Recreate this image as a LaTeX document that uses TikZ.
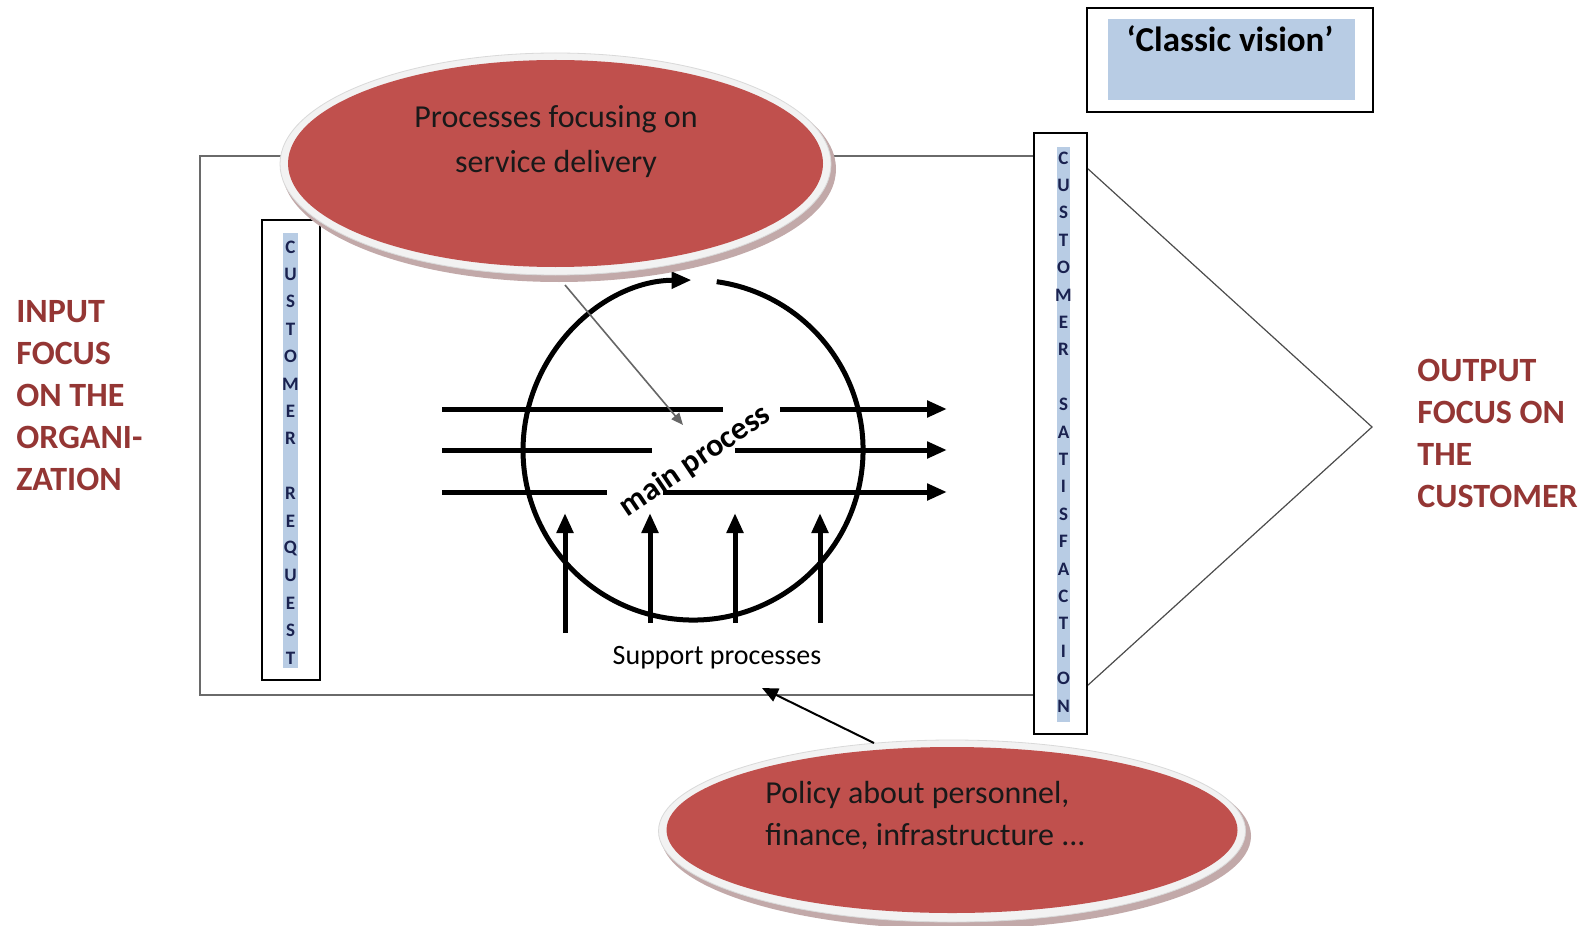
\documentclass[tikz,border=0pt]{standalone}
\usepackage{fontspec}
\setmainfont{Carlito}
\usetikzlibrary{arrows.meta,shapes.geometric}
\definecolor{ered}{HTML}{C0504D}
\definecolor{lblred}{HTML}{943634}
\definecolor{lblue}{HTML}{B8CCE4}
\definecolor{navy}{HTML}{1A2250}
\definecolor{rimc}{HTML}{F2F2F2}
\definecolor{rimd}{HTML}{D9D9D9}
\definecolor{shad}{HTML}{B39494}
\definecolor{framec}{HTML}{6A6A6A}
\begin{document}
\begin{tikzpicture}[x=0.5pt,y=-0.5pt,
  lbl/.style={font=\fontsize{17}{21}\selectfont\bfseries, text=lblred, anchor=base west, inner sep=0pt},
  bartext/.style={font=\fontsize{9.5}{9.5}\selectfont\bfseries, text=navy, inner sep=0pt},
  etext/.style={font=\fontsize{16}{20}\selectfont, text=black!90, inner sep=0pt},
  heavy/.style={line width=2.5pt, line cap=butt},
  bigarr/.style={heavy, -{Triangle[length=10pt,width=8pt]}},
  redell/.style={shape=ellipse, fill=ered, draw=none, inner sep=0pt},
  barbox/.style={draw=black, line width=1pt, fill=white, inner sep=0pt},
  strip/.style={fill=lblue, draw=none, inner sep=0pt}
]
\useasboundingbox (0,0) rectangle (1593,925);
\fill[white] (0,0) rectangle (1593,925);

% main frame
\node[draw=framec, line width=1.3pt, minimum width=417pt, minimum height=269.5pt, inner sep=0pt] (frame) at (617,425.5) {};

% triangle to output
\coordinate (tA) at (1087,168);
\coordinate (apex) at (1372,427);
\coordinate (tB) at (1087,686);
\draw[black!70, line width=0.6pt] (tA) -- (apex) -- (tB);

% left bar
\node[barbox, minimum width=29pt, minimum height=230pt] (leftbar) at (291,450) {};
\node[strip, minimum width=7.5pt, minimum height=217.5pt] (lstrip) at (290.5,450.5) {};
\foreach \c [count=\i from 0] in {C,U,S,T,O,M,E,R,{},R,E,Q,U,E,S,T}
  \node[bartext] (lq\i) at (290.5,247+27.4*\i) {\c};

% right bar
\node[barbox, minimum width=26.5pt, minimum height=300.5pt] (rightbar) at (1060.5,433.5) {};
\node[strip, minimum width=6.5pt, minimum height=287.5pt] (rstrip) at (1063.5,434.5) {};
\foreach \c [count=\i from 0] in {C,U,S,T,O,M,E,R,{},S,A,T,I,S,F,A,C,T,I,O,N}
  \node[bartext] (rs\i) at (1063.5,158+27.4*\i) {\c};

% classic vision box
\node[draw=black, line width=1.2pt, minimum width=143pt, minimum height=52pt, inner sep=0pt] (cvbox) at (1230,60) {};
\node[strip, minimum width=123.5pt, minimum height=40.5pt] (cvfill) at (1231.5,59.5) {};
\node[font=\fontsize{17.5}{20}\selectfont\bfseries, anchor=base, inner sep=0pt] (cvtext) at (1230,52) {‘Classic vision’};

% main process circle
\coordinate (cc) at (693,450);
\draw[heavy, -{Triangle[length=10pt,width=8pt]}] (716.7,281.7) arc[start angle=82, end angle=-269.5, radius=85pt];

% horizontal flows
\draw[heavy] (442,409) -- (723,409);
\draw[bigarr] (780,409) -- (947,409);
\draw[heavy] (442,450) -- (652,450);
\draw[bigarr] (735,450) -- (947,450);
\draw[heavy] (442,492) -- (607,492);
\draw[bigarr] (663,492) -- (947,492);

% support arrows
\draw[bigarr] (565,633) -- (565,513);
\draw[bigarr] (650,623) -- (650,513);
\draw[bigarr] (735,623) -- (735,513);
\draw[bigarr] (820,623) -- (820,513);

\node[font=\fontsize{16}{18}\selectfont\bfseries, rotate=34, inner sep=0pt] (mp) at (695,461) {main process};
\node[font=\fontsize{14}{16}\selectfont, anchor=base, inner sep=0pt] (sp) at (717,664) {Support processes};

% top ellipse
\fill[shad!80!white] (559,169) ellipse [x radius=138.5pt, y radius=56.5pt];
\fill[rimc] (555.5,164) ellipse [x radius=137.75pt, y radius=55.5pt];
\draw[rimd, line width=0.4pt] (555.5,164) ellipse [x radius=137.75pt, y radius=55.5pt];
\node[redell, minimum width=267.5pt, minimum height=103.5pt] (topell) at (555.5,163.5) {};
\node[etext, anchor=base] (t1) at (556,128) {Processes focusing on};
\node[etext, anchor=base] (t2) at (556,173) {service delivery};

\coordinate (a1s) at (565,285);
\coordinate (a1e) at (683,425);
\draw[black!60, line width=0.8pt, -{Triangle[length=6pt,width=5pt]}] (a1s) -- (a1e);

% bottom ellipse
\fill[shad!80!white] (956,836) ellipse [x radius=147.5pt, y radius=46.5pt];
\fill[rimc] (952,831) ellipse [x radius=146.75pt, y radius=45.5pt];
\draw[rimd, line width=0.4pt] (952,831) ellipse [x radius=146.75pt, y radius=45.5pt];
\node[redell, minimum width=285.5pt, minimum height=83pt] (botell) at (952,830) {};
\node[etext, anchor=base west] (b1) at (765,803) {Policy about personnel,};
\node[etext, anchor=base west] (b2) at (765,845) {finance, infrastructure ...};

\coordinate (a2s) at (874,743);
\coordinate (a2e) at (762,688);
\draw[black, line width=1pt, -{Triangle[length=8pt,width=7pt]}] (a2s) -- (a2e);

% side labels
\node[lbl] (in1) at (16,322) {INPUT};
\node[lbl] (in2) at (16,364) {FOCUS};
\node[lbl] (in3) at (16,406) {ON THE};
\node[lbl] (in4) at (16,448) {ORGANI-};
\node[lbl] (in5) at (16,490) {ZATION};

\node[lbl] (out1) at (1417,381) {OUTPUT};
\node[lbl] (out2) at (1417,423) {FOCUS ON};
\node[lbl] (out3) at (1417,465) {THE};
\node[lbl] (out4) at (1417,507) {CUSTOMER};
\end{tikzpicture}
\end{document}
